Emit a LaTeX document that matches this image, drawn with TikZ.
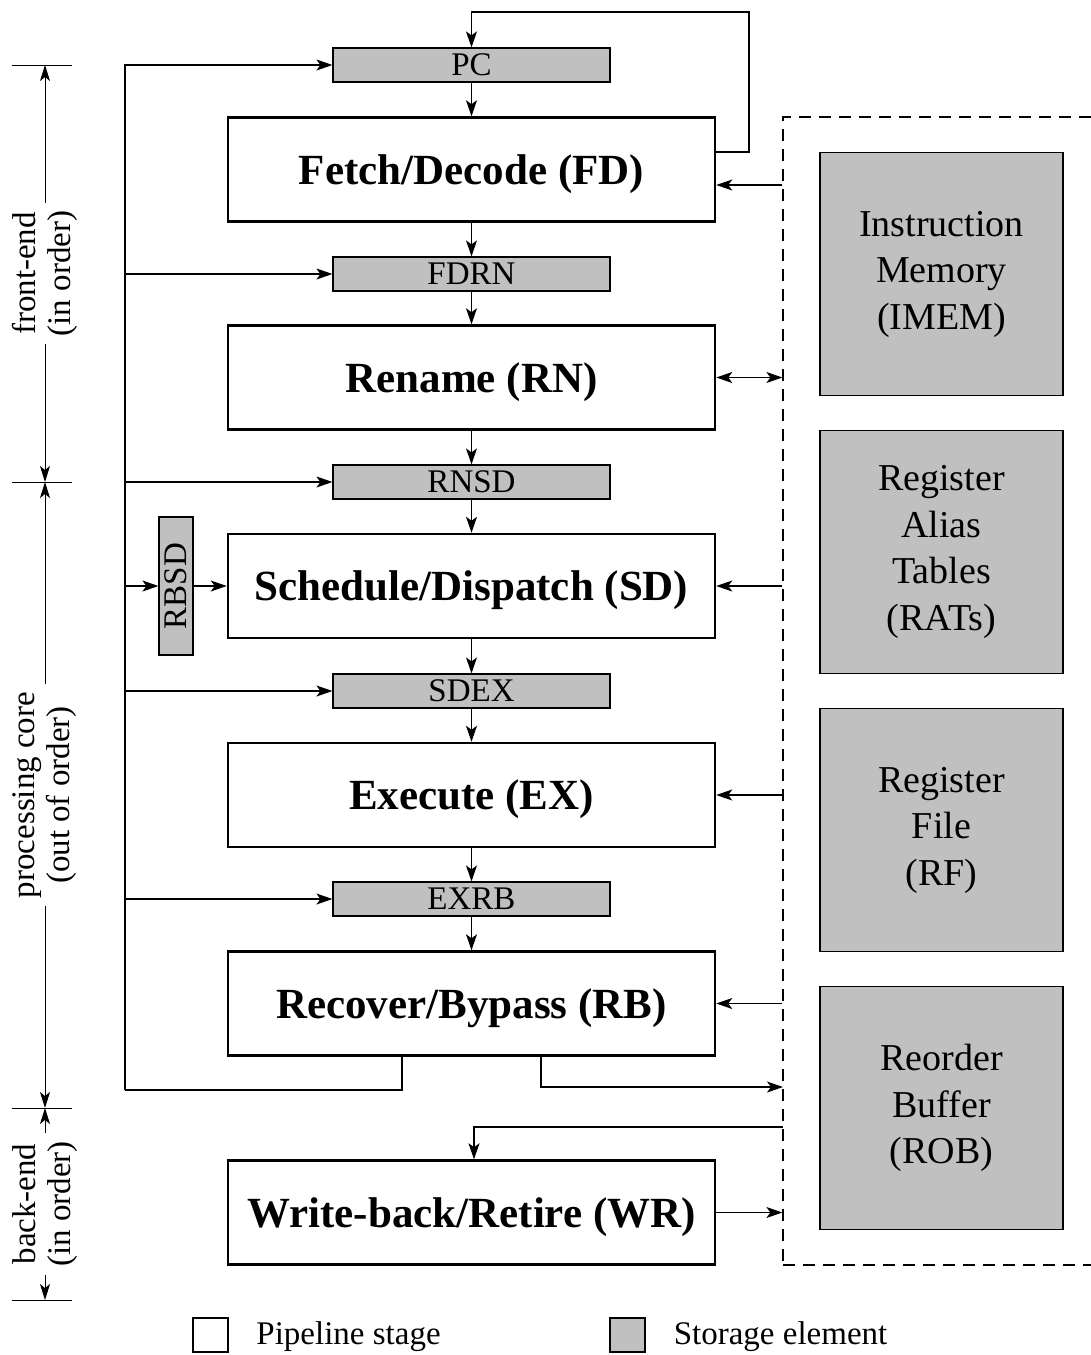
\documentclass[tikz,border=0pt]{standalone}
\usepackage{fontspec}
\setmainfont{Liberation Serif}
\usetikzlibrary{arrows.meta,positioning}
\definecolor{storegray}{RGB}{192,192,192}
\begin{document}
\begin{tikzpicture}[x=1pt, y=-1pt,
  stage/.style={draw, line width=2.5pt, minimum width=487pt, minimum height=104pt, text depth=0pt, font=\fontsize{43}{48}\selectfont\bfseries},
  reg/.style={draw, fill=storegray, line width=1.2pt, minimum width=277pt, minimum height=34pt, inner sep=0pt, font=\fontsize{33}{36}\selectfont},
  memblk/.style={draw, fill=storegray, line width=1.2pt, minimum width=243pt, minimum height=243pt, align=center, font=\fontsize{38}{46.5}\selectfont},
  arr/.style={-{Stealth[length=16pt,width=11pt,inset=4pt]}, line width=1.2pt},
  darr/.style={{Stealth[length=16pt,width=11pt,inset=4pt]}-{Stealth[length=16pt,width=11pt,inset=4pt]}, line width=1.2pt},
  dimarr/.style={-{Stealth[length=16pt,width=10pt,inset=4pt]}, line width=1pt},
  dimlbl/.style={rotate=90, align=center, inner sep=8pt, font=\fontsize{33}{35}\selectfont},
  note/.style={inner sep=0pt, font=\fontsize{33}{36}\selectfont}
]
\useasboundingbox (0,0) rectangle (1090,1355);
% pipeline stages and registers
\node[stage] (fd) at (471.5,169.5) {Fetch/Decode (FD)};
\node[stage] (rn) at (471.5,377.5) {Rename (RN)};
\node[stage] (sd) at (471.5,586) {Schedule/Dispatch (SD)};
\node[stage] (ex) at (471.5,795) {Execute (EX)};
\node[stage] (rb) at (471.5,1003.5) {Recover/Bypass (RB)};
\node[stage] (wr) at (471.5,1212.5) {Write-back/Retire (WR)};
\node[reg] (pc) at (471.5,65) {PC};
\node[reg] (fdrn) at (471.5,274) {FDRN};
\node[reg] (rnsd) at (471.5,482) {RNSD};
\node[reg] (sdex) at (471.5,691) {SDEX};
\node[reg] (exrb) at (471.5,899) {EXRB};
\node[reg, rotate=90, minimum width=138pt] (rbsd) at (176,586) {RBSD};
\draw[arr] (pc) -- (fd);
\draw[arr] (fd) -- (fdrn);
\draw[arr] (fdrn) -- (rn);
\draw[arr] (rn) -- (rnsd);
\draw[arr] (rnsd) -- (sd);
\draw[arr] (sd) -- (sdex);
\draw[arr] (sdex) -- (ex);
\draw[arr] (ex) -- (exrb);
\draw[arr] (exrb) -- (rb);
% recovery bus on the left
\coordinate (bus) at (125,1090);
\draw[line width=1.2pt] ([xshift=-69.5pt]rb.south) |- (bus);
\draw[arr] (bus) |- (pc.west);
\draw[arr] (bus |- fdrn) -- (fdrn.west);
\draw[arr] (bus |- rnsd) -- (rnsd.west);
\draw[arr] (bus |- rbsd) -- (rbsd.north);
\draw[arr] (rbsd.south) -- (sd.west);
\draw[arr] (bus |- sdex) -- (sdex.west);
\draw[arr] (bus |- exrb) -- (exrb.west);
\draw[arr] ([yshift=17.5pt]fd.east) -| (749,12) -| (pc.north);
% storage
\node[draw, dash pattern=on 12pt off 8pt, line width=1.2pt, minimum width=320pt, minimum height=1148pt] (mem) at (943,691) {};
\node[memblk] (imem) at (941.5,274) {Instruction\\Memory\\(IMEM)};
\node[memblk] (rat) at (941.5,552) {Register\\Alias\\Tables\\(RATs)};
\node[memblk] (rf) at (941.5,830) {Register\\File\\(RF)};
\node[memblk] (rob) at (941.5,1108) {Reorder\\Buffer\\(ROB)};
\coordinate (fdin) at ([yshift=-15.5pt]fd.east);
\coordinate (robin) at (783,1087);
\coordinate (robout) at (783,1127);
\draw[arr] (fdin -| mem.west) -- (fdin);
\draw[darr] (rn.east) -- (rn.east -| mem.west);
\draw[arr] (sd.east -| mem.west) -- (sd.east);
\draw[arr] (ex.east -| mem.west) -- (ex.east);
\draw[arr] (rb.east -| mem.west) -- (rb.east);
\draw[arr] ([xshift=69.5pt]rb.south) |- (robin);
\draw[arr] (robout) -| ([xshift=2.5pt]wr.north);
\draw[arr] (wr.east) -- (wr.east -| mem.west);
% dimension lines
\coordinate (d1) at (45,65);
\coordinate (d2) at (45,482);
\coordinate (d3) at (45,1108);
\coordinate (d4) at (45,1300);
\draw[line width=1pt] ([xshift=-33pt]d1) -- ([xshift=27pt]d1);
\draw[line width=1pt] ([xshift=-33pt]d2) -- ([xshift=27pt]d2);
\draw[line width=1pt] ([xshift=-33pt]d3) -- ([xshift=27pt]d3);
\draw[line width=1pt] ([xshift=-33pt]d4) -- ([xshift=27pt]d4);
\node[dimlbl] (fe) at (45,273.5) {front-end\\(in order)};
\node[dimlbl] (pcore) at (45,795) {processing core\\(out of order)};
\node[dimlbl] (be) at (45,1204) {back-end\\(in order)};
\draw[dimarr] (fe.east) -- (d1);
\draw[dimarr] (fe.west) -- (d2);
\draw[dimarr] (pcore.east) -- (d2);
\draw[dimarr] (pcore.west) -- (d3);
\draw[dimarr] (be.east) -- (d3);
\draw[dimarr] (be.west) -- (d4);
% legend
\node[draw, line width=2.5pt, minimum width=35pt, minimum height=34pt] (lgstage) at (210.5,1335) {};
\node[note, right=27pt of lgstage, yshift=-2pt] (lgstagetxt) {Pipeline stage};
\node[draw, fill=storegray, line width=1.2pt, minimum width=35pt, minimum height=34pt] (lgstore) at (627.5,1335) {};
\node[note, right=28pt of lgstore, yshift=-2pt] (lgstoretxt) {Storage element};
\end{tikzpicture}
\end{document}
